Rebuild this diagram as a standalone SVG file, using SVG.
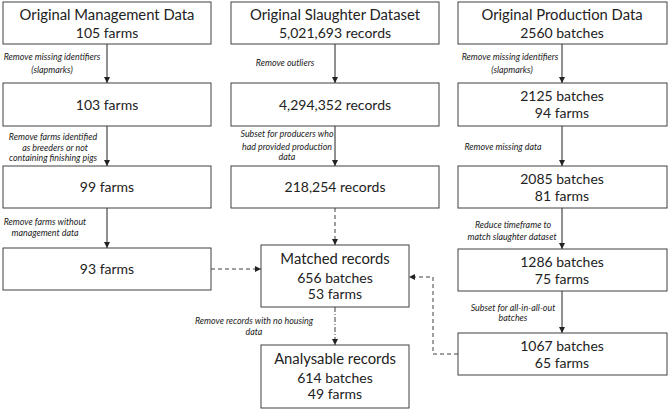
<svg xmlns="http://www.w3.org/2000/svg" width="669" height="411" viewBox="0 0 669 411">
<style>
.box{fill:#fff;stroke:#404040;stroke-width:1}
.t{font-family:Lato,"Liberation Sans",Arial,sans-serif;fill:#222;text-anchor:middle}
.h{font-size:14.8px}
.n{font-size:14px}
.l{font-family:Lato,"Liberation Sans",Arial,sans-serif;font-style:italic;font-size:8.9px;fill:#222;text-anchor:middle}
.c{fill:none;stroke:#222;stroke-width:1}
.d{stroke-dasharray:4,3;stroke:#404040}
.dd{stroke-dasharray:5,2,1,2;stroke:#404040}
</style>
<defs>
<marker id="ah" markerUnits="userSpaceOnUse" markerWidth="6" markerHeight="6" refX="6" refY="3" orient="auto">
<path d="M0,0 L6,3 L0,6 z" fill="#222"/>
</marker>
</defs>
<rect width="669" height="411" fill="#fff"/>
<g id="connectors">
<line class="c" x1="107" y1="44" x2="107" y2="83" marker-end="url(#ah)"/>
<line class="c" x1="107" y1="126" x2="107" y2="166" marker-end="url(#ah)"/>
<line class="c" x1="107" y1="208" x2="107" y2="248" marker-end="url(#ah)"/>
<line class="c" x1="335" y1="44" x2="335" y2="83" marker-end="url(#ah)"/>
<line class="c" x1="335" y1="126" x2="335" y2="166" marker-end="url(#ah)"/>
<line class="c d" x1="335" y1="208" x2="335" y2="245" marker-end="url(#ah)"/>
<line class="c dd" x1="335" y1="307" x2="335" y2="345" marker-end="url(#ah)"/>
<line class="c" x1="562" y1="44" x2="562" y2="83" marker-end="url(#ah)"/>
<line class="c" x1="562" y1="126" x2="562" y2="166" marker-end="url(#ah)"/>
<line class="c" x1="562" y1="208" x2="562" y2="249" marker-end="url(#ah)"/>
<line class="c" x1="562" y1="291" x2="562" y2="333" marker-end="url(#ah)"/>
<line class="c d" x1="211" y1="269" x2="261" y2="269" marker-end="url(#ah)"/>
<polyline class="c d" points="458,354 433,354 433,277 409,277" marker-end="url(#ah)"/>
<text class="l" x="52" y="60">Remove missing  identifiers</text>
<text class="l" x="52" y="73">(slapmarks)</text>
<text class="l" x="53" y="140">Remove farms identified</text>
<text class="l" x="55" y="151">as breeders or not</text>
<text class="l" x="53" y="161">containing finishing pigs</text>
<text class="l" x="45" y="225">Remove farms without</text>
<text class="l" x="45" y="236">management data</text>
<text class="l" x="285" y="66">Remove outliers</text>
<text class="l" x="287" y="137">Subset for producers who</text>
<text class="l" x="287" y="150">had provided production</text>
<text class="l" x="287" y="160">data</text>
<text class="l" x="254" y="324">Remove records with no housing</text>
<text class="l" x="254" y="335">data</text>
<text class="l" x="510" y="60">Remove missing  identifiers</text>
<text class="l" x="512" y="73">(slapmarks)</text>
<text class="l" x="503" y="150">Remove missing  data</text>
<text class="l" x="513" y="228">Reduce timeframe to</text>
<text class="l" x="512" y="240">match slaughter dataset</text>
<text class="l" x="513" y="311">Subset for all-in-all-out</text>
<text class="l" x="513" y="321">batches</text>
</g>
<g id="mgmt0"><rect class="box" x="3" y="2" width="208" height="42"/><text class="t h" x="107" y="20">Original Management Data</text><text class="t n" x="107" y="38">105 farms</text></g>
<g id="mgmt1"><rect class="box" x="3" y="83" width="208" height="43"/><text class="t n" x="107" y="110">103 farms</text></g>
<g id="mgmt2"><rect class="box" x="3" y="166" width="208" height="42"/><text class="t n" x="107" y="192">99 farms</text></g>
<g id="mgmt3"><rect class="box" x="3" y="248" width="208" height="42"/><text class="t n" x="107" y="274">93 farms</text></g>
<g id="slau0"><rect class="box" x="231" y="2" width="208" height="42"/><text class="t h" x="335" y="20">Original Slaughter Dataset</text><text class="t n" x="335" y="38">5,021,693 records</text></g>
<g id="slau1"><rect class="box" x="231" y="83" width="208" height="43"/><text class="t n" x="335" y="110">4,294,352 records</text></g>
<g id="slau2"><rect class="box" x="231" y="166" width="208" height="42"/><text class="t n" x="335" y="192">218,254 records</text></g>
<g id="matched"><rect class="box" x="261" y="245" width="148" height="62"/><text class="t h" x="335" y="264">Matched records</text><text class="t n" x="335" y="283">656 batches</text><text class="t n" x="335" y="299">53 farms</text></g>
<g id="analysable"><rect class="box" x="261" y="345" width="148" height="63"/><text class="t h" x="335" y="364">Analysable records</text><text class="t n" x="335" y="383">614 batches</text><text class="t n" x="335" y="399">49 farms</text></g>
<g id="prod0"><rect class="box" x="458" y="2" width="209" height="42"/><text class="t h" x="562" y="20">Original Production Data</text><text class="t n" x="562" y="38">2560 batches</text></g>
<g id="prod1"><rect class="box" x="458" y="83" width="209" height="43"/><text class="t n" x="562" y="101">2125 batches</text><text class="t n" x="562" y="118">94 farms</text></g>
<g id="prod2"><rect class="box" x="458" y="166" width="209" height="42"/><text class="t n" x="562" y="184">2085 batches</text><text class="t n" x="562" y="201">81 farms</text></g>
<g id="prod3"><rect class="box" x="458" y="249" width="209" height="42"/><text class="t n" x="562" y="267">1286 batches</text><text class="t n" x="562" y="284">75 farms</text></g>
<g id="prod4"><rect class="box" x="458" y="333" width="209" height="42"/><text class="t n" x="562" y="351">1067 batches</text><text class="t n" x="562" y="368">65 farms</text></g>
</svg>
